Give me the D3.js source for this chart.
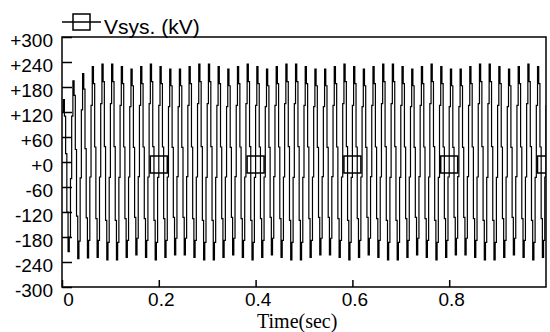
<!DOCTYPE html>
<html lang="en">
    <head>
        <meta charset="utf-8">
        <title>Vsys</title>
        <script src="https://d3js.org/d3.v7.min.js"></script>
        <style type="text/css">
          body {
            margin: 0;
            background: #fff;
          }
          text {
            font-family: "Liberation Sans", Arial, sans-serif;
            fill: #000;
          }
          .axis path {
            display: none;
          }
          .axis line {
            stroke: #000;
            stroke-width: 1.5;
          }
          .axis text {
            font-size: 19px;
          }
          .frame {
            fill: none;
            stroke: #000;
            stroke-width: 1.5;
          }
          .trace {
            fill: none;
            stroke: #000;
            stroke-width: 1.2;
          }
          .marker {
            fill: none;
            stroke: #000;
            stroke-width: 1.5;
          }
        </style>
    </head>
    <body>
        <script type="text/javascript">

         // sample spacing of the recorded trace (s)
         var sampleStep = 0.0025;

         // Vsys samples (kV), one row per 50 Hz cycle
         var vsys = [
             120, 150, 110, 20, -120, -215, -180, -40,
             110, 195, 160, 30, -130, -232, -190, -38,
             125, 212, 175, 32, -134, -230, -188, -36,
             136, 229, 188, 36, -136, -229, -188, -36,
             140, 235, 193, 37, -140, -235, -193, -37,
             140, 235, 193, 37, -140, -235, -193, -37,
             136, 229, 188, 36, -136, -229, -188, -36,
             133, 223, 183, 35, -133, -223, -183, -35,
             136, 229, 188, 36, -136, -229, -188, -36,
             140, 235, 193, 37, -140, -235, -193, -37,
             136, 229, 188, 36, -136, -229, -188, -36,
             133, 223, 183, 35, -133, -223, -183, -35,
             133, 223, 183, 35, -133, -223, -183, -35,
             136, 229, 188, 36, -136, -229, -188, -36,
             140, 235, 193, 37, -140, -235, -193, -37,
             140, 235, 193, 37, -140, -235, -193, -37,
             136, 229, 188, 36, -136, -229, -188, -36,
             133, 223, 183, 35, -133, -223, -183, -35,
             136, 229, 188, 36, -136, -229, -188, -36,
             140, 235, 193, 37, -140, -235, -193, -37,
             136, 229, 188, 36, -136, -229, -188, -36,
             133, 223, 183, 35, -133, -223, -183, -35,
             136, 229, 188, 36, -136, -229, -188, -36,
             140, 235, 193, 37, -140, -235, -193, -37,
             140, 235, 193, 37, -140, -235, -193, -37,
             136, 229, 188, 36, -136, -229, -188, -36,
             133, 223, 183, 35, -133, -223, -183, -35,
             133, 223, 183, 35, -133, -223, -183, -35,
             136, 229, 188, 36, -136, -229, -188, -36,
             140, 235, 193, 37, -140, -235, -193, -37,
             136, 229, 188, 36, -136, -229, -188, -36,
             133, 223, 183, 35, -133, -223, -183, -35,
             136, 229, 188, 36, -136, -229, -188, -36,
             140, 235, 193, 37, -140, -235, -193, -37,
             140, 235, 193, 37, -140, -235, -193, -37,
             136, 229, 188, 36, -136, -229, -188, -36,
             133, 223, 183, 35, -133, -223, -183, -35,
             136, 229, 188, 36, -136, -229, -188, -36,
             140, 235, 193, 37, -140, -235, -193, -37,
             136, 229, 188, 36, -136, -229, -188, -36,
             133, 223, 183, 35, -133, -223, -183, -35,
             133, 223, 183, 35, -133, -223, -183, -35,
             136, 229, 188, 36, -136, -229, -188, -36,
             140, 235, 193, 37, -140, -235, -193, -37,
             140, 235, 193, 37, -140, -235, -193, -37,
             136, 229, 188, 36, -136, -229, -188, -36,
             133, 223, 183, 35, -133, -223, -183, -35,
             136, 229, 188, 36, -136, -229, -188, -36,
             140, 235, 193, 37, -140, -235, -193, -37,
             136, 229, 188, 36, -136, -229, -188, -36,
             136
         ];

         // symbol markers along the trace
         var markerT = [0.2, 0.4, 0.6, 0.8, 1.0];
         var markerV = [-6, -6, -6, -6, -6];

         var yTicks = [300, 240, 180, 120, 60, 0, -60, -120, -180, -240, -300];
         var xTicks = [0, 0.2, 0.4, 0.6, 0.8];

         var seriesName = "Vsys. (kV)";
         var xTitle = "Time(sec)";

         //Width and height
         var w = 550;
         var h = 332;
         var margin = {left: 62, right: 4, top: 37, bottom: 45};
         var pw = w - margin.left - margin.right;
         var ph = h - margin.top - margin.bottom;

         var x = d3.scaleLinear().domain([0, 1]).range([0, pw]);
         var y = d3.scaleLinear().domain([-300, 300]).range([ph, 0]);

         var svg = d3.select("body")
                     .append("svg")
                     .attr("width", w)
                     .attr("height", h);

         svg.append("defs").append("clipPath")
            .attr("id", "plot-clip")
            .append("rect")
            .attr("width", pw)
            .attr("height", ph);

         var g = svg.append("g")
                    .attr("transform", "translate(" + margin.left + "," + margin.top + ")");

         var plot = g.append("g").attr("clip-path", "url(#plot-clip)");

         // sample-and-hold look of the recorder trace
         var line = d3.line()
                      .curve(d3.curveStepAfter)
                      .x(function (d, i) { return x(i * sampleStep); })
                      .y(function (d) { return y(d); });

         plot.append("path")
             .datum(vsys)
             .attr("class", "trace")
             .attr("d", line);

         var s = 17;
         plot.selectAll("rect.marker")
             .data(markerT)
             .enter()
             .append("rect")
             .attr("class", "marker")
             .attr("x", function (d) { return x(d) - s / 2; })
             .attr("y", function (d, i) { return y(markerV[i]) - s / 2; })
             .attr("width", s)
             .attr("height", s);

         // y axis, ticks pointing inward
         var yAxis = g.append("g")
                      .attr("class", "axis")
                      .call(d3.axisLeft(y)
                              .tickValues(yTicks)
                              .tickSizeInner(-10)
                              .tickSizeOuter(0)
                              .tickPadding(9)
                              .tickFormat(function (d) { return (d >= 0 ? "+" : "") + d; }));
         yAxis.selectAll("text").attr("dy", "0.5em");

         var xAxis = g.append("g")
                      .attr("class", "axis")
                      .attr("transform", "translate(0," + ph + ")")
                      .call(d3.axisBottom(x)
                              .tickValues(xTicks)
                              .tickSizeInner(-7)
                              .tickSizeOuter(0)
                              .tickPadding(6)
                              .tickFormat(function (d) { return d === 0 ? "0" : d3.format(".1f")(d); }));
         xAxis.selectAll("text").attr("dx", function (d) { return d === 0 ? 6 : 2; });

         g.append("rect")
          .attr("class", "frame")
          .attr("width", pw)
          .attr("height", ph);

         svg.append("text")
            .attr("x", 257)
            .attr("y", 328)
            .style("font-family", "'Liberation Serif', 'Times New Roman', serif")
            .style("font-size", "20px")
            .text(xTitle);

         // legend
         var lg = svg.append("g").attr("transform", "translate(62,22)");
         lg.append("line")
           .attr("x1", 0).attr("x2", 39)
           .attr("y1", 0).attr("y2", 0)
           .attr("stroke", "#000")
           .attr("stroke-width", 1.5);
         lg.append("rect")
           .attr("class", "marker")
           .attr("x", 11).attr("y", -8)
           .attr("width", 17).attr("height", 16);
         lg.append("text")
           .attr("x", 42)
           .attr("y", 12)
           .style("font-size", "21px")
           .text(seriesName);

        </script>
    </body>
</html>
